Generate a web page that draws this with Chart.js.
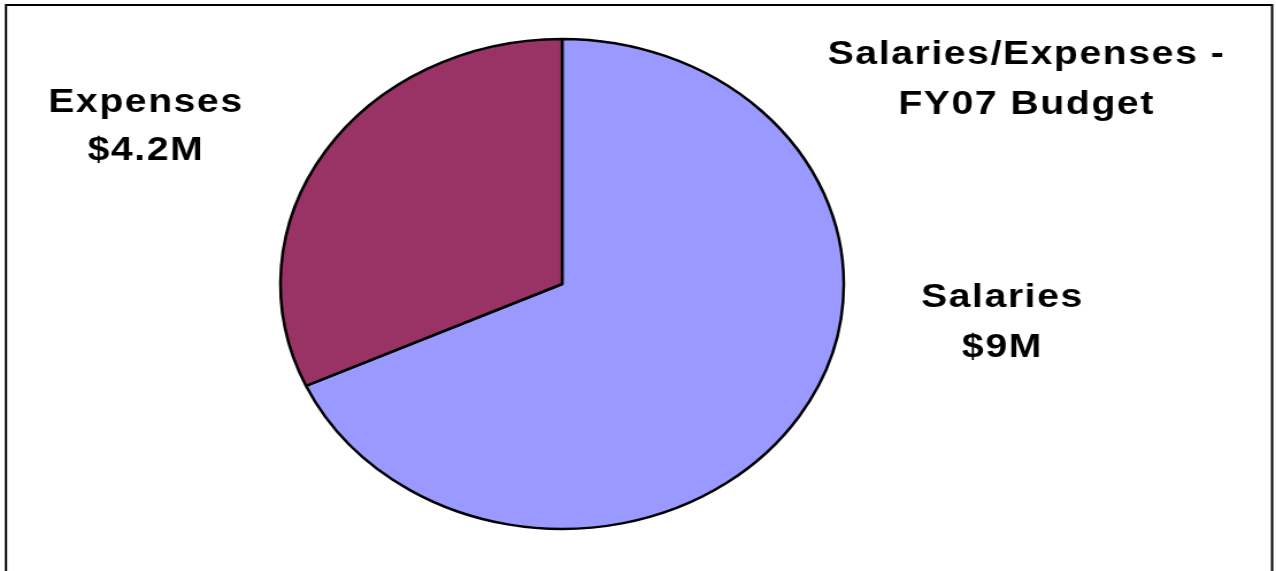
<!DOCTYPE html>
<html>
<head>
<meta charset="utf-8">
<script src="https://cdn.jsdelivr.net/npm/chart.js@4/dist/chart.umd.min.js"></script>
<style>
  html, body { margin: 0; padding: 0; background: #fff; overflow: hidden; }
</style>
</head>
<body>
<!-- the drawing is rendered narrower and widened by CSS, giving the oval pie -->
<canvas id="budget" width="1110" height="571" style="display:block;width:1276px;height:571px"></canvas>
<script>
// FY07 budget split, in millions of dollars
const categories = ['Salaries', 'Expenses'];
const budgetMillions = [9, 4.2];
const sliceColors = ['#9999FF', '#993366'];
const titleLines = ['Salaries/Expenses -', 'FY07 Budget'];

const moneyText = v => '$' + v + 'M';

// frame, title and slice captions drawn on top of the pie
const captionPlugin = {
  id: 'captions',
  afterDraw(chart, args, opts) {
    const ctx = chart.ctx;
    ctx.save();
    ctx.strokeStyle = '#000';
    ctx.lineWidth = 2;
    ctx.strokeRect(5.2, 5, 1101.4, 700);

    ctx.fillStyle = '#000';
    ctx.font = 'bold 34px "Liberation Sans", Arial, Helvetica, sans-serif';
    ctx.letterSpacing = '1.4px';
    ctx.textAlign = 'center';
    ctx.textBaseline = 'alphabetic';

    const t = opts.title;
    titleLines.forEach((line, i) => ctx.fillText(line, t.x, t.y + i * t.step));

    opts.slices.forEach((pos, i) => {
      ctx.fillText(categories[i], pos.x, pos.y);
      ctx.fillText(moneyText(budgetMillions[i]), pos.x, pos.y + pos.step);
    });
    ctx.restore();
  }
};

new Chart(document.getElementById('budget'), {
  type: 'pie',
  data: {
    labels: categories,
    datasets: [{
      data: budgetMillions,
      backgroundColor: sliceColors,
      borderColor: '#000',
      borderWidth: 2.5,
      hoverOffset: 0
    }]
  },
  options: {
    responsive: false,
    animation: false,
    devicePixelRatio: 1,
    radius: 245,
    layout: { padding: { left: 244, right: 376, top: 39, bottom: 42 } },
    events: [],
    plugins: {
      legend: { display: false },
      tooltip: { enabled: false },
      title: { display: false },
      captions: {
        title: { x: 893, y: 64, step: 50 },
        slices: [
          { x: 872, y: 307, step: 50 },
          { x: 127, y: 112, step: 48 }
        ]
      }
    }
  },
  plugins: [captionPlugin]
});
</script>
</body>
</html>
